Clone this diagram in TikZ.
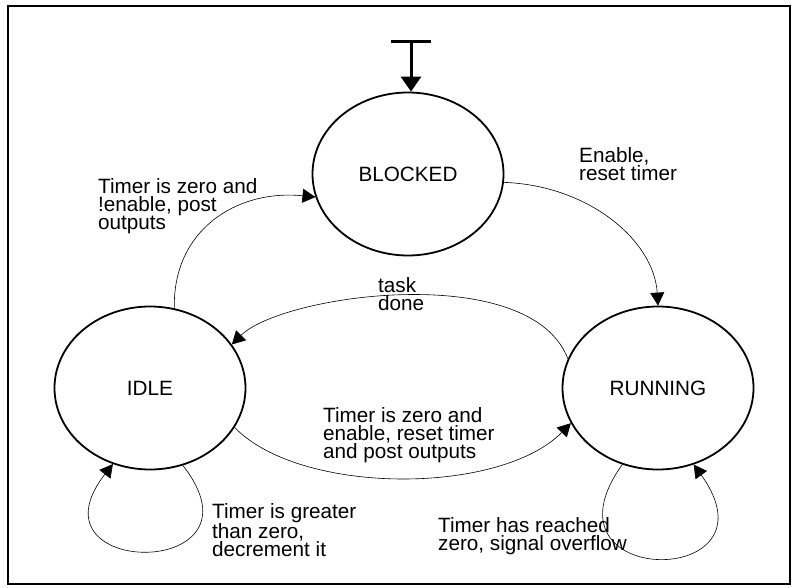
\documentclass[tikz,border=0pt]{standalone}
\usepackage{fontspec}
\setmainfont{Liberation Sans}
\usetikzlibrary{arrows.meta,shapes.geometric}

\begin{document}
\begin{tikzpicture}[x=1pt,y=-1pt,
        state/.style={draw, ellipse, line width=1.8pt, minimum width=191pt, minimum height=163pt, inner sep=0pt, font=\fontsize{20.7}{18.3}\selectfont},
        lbl/.style={anchor=north west, inner sep=0pt, align=left, font=\fontsize{20.7}{18.3}\selectfont},
        trans/.style={line width=0.6pt, -{Triangle[length=13pt,width=14pt]}}]
            \useasboundingbox (0,0) rectangle (797,588);
            \draw[line width=2.5pt] (8,6) rectangle (790,584);
            \node[state] (blocked) at (408,174) {BLOCKED};
            \node[state] (idle) at (150,388) {IDLE};
            \node[state] (running) at (658,388) {RUNNING};
            \coordinate (init) at (411,42);
            \draw[line width=3pt] (391,42) -- (431,42);
            \draw[line width=3pt, -{Triangle[length=15pt,width=20pt]}] (init) -- (init |- blocked.north);
            \draw[trans] (blocked.-5) .. controls +(85,3) and +(-4,-65) .. (running.north);
            \draw[trans] (idle.73) .. controls +(-2,-77) and +(-80,-8) .. (blocked.-166);
            \draw[trans] (running.162) .. controls +(-38,-99) and +(50,-50) .. (idle.28);
            \draw[trans] (idle.-25) .. controls +(66,68) and +(-71,72) .. (running.-158);
            \draw[trans] (idle.-67) .. controls +(90,115) and +(-90,115) .. (idle.-116);
            \draw[trans] (running.-115) .. controls +(-90,125) and +(90,125) .. (running.-65);
            \node[lbl] (lblpost) at (98,178) {Timer is zero and\\!enable, post\\outputs};
            \node[lbl] (lblenable) at (579,147) {Enable,\\reset timer};
            \node[lbl] (lbldone) at (378,277) {task\\done};
            \node[lbl] (lblreset) at (323,407) {Timer is zero and\\enable, reset timer\\and post outputs};
            \node[lbl] (lbldec) at (212,503) {Timer is greater\\than zero,\\decrement it};
            \node[lbl] (lblover) at (438,517) {Timer has reached\\zero, signal overflow};
\end{tikzpicture}
\end{document}
